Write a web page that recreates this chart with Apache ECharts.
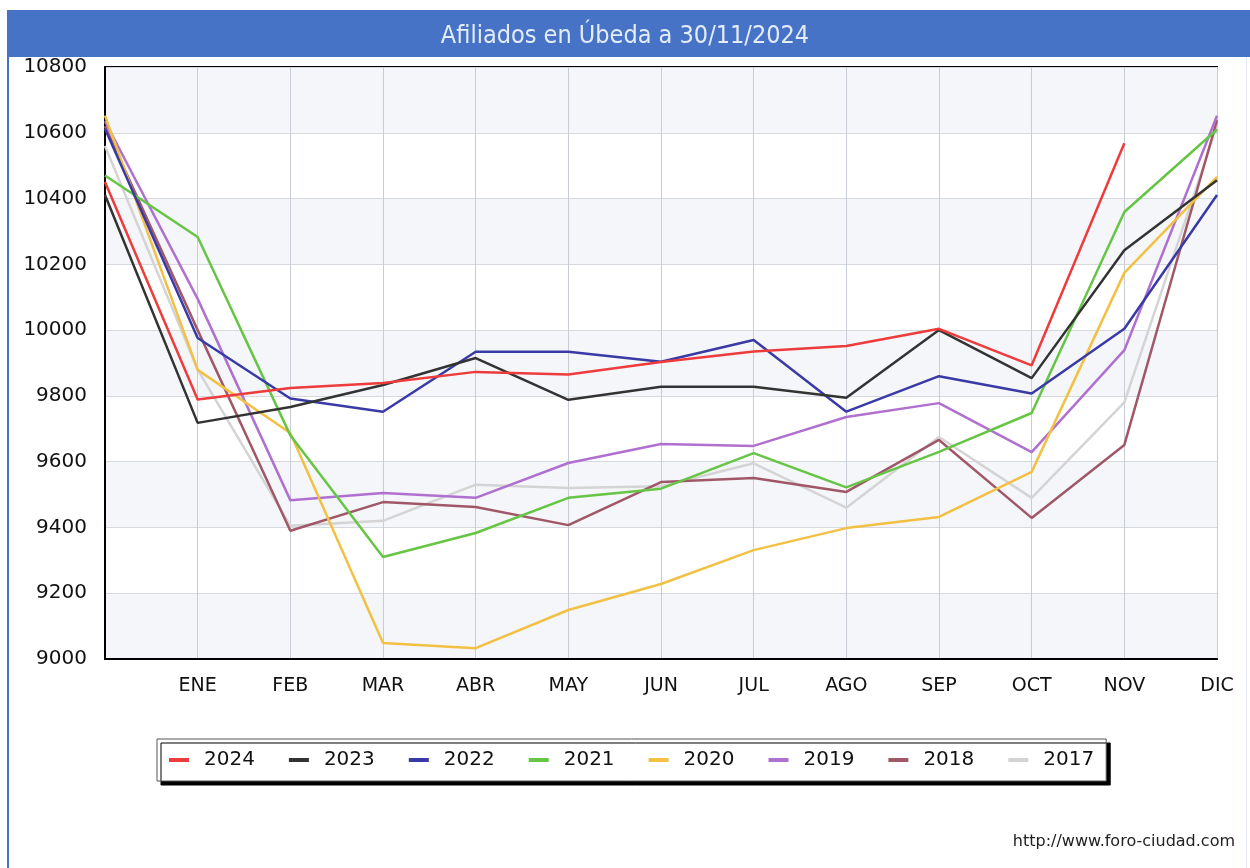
<!DOCTYPE html>
<html>
<head>
<meta charset="utf-8">
<script src="https://cdn.jsdelivr.net/npm/echarts@6/dist/echarts.min.js"></script>
<style>
  html, body { margin: 0; padding: 0; background: #ffffff; }
  #chart { width: 1250px; height: 868px; }
</style>
</head>
<body>
<div id="chart"></div>
<script>
// meses (la primera posición es diciembre del año anterior, sin etiqueta)
const months = ['', 'ENE', 'FEB', 'MAR', 'ABR', 'MAY', 'JUN', 'JUL', 'AGO', 'SEP', 'OCT', 'NOV', 'DIC'];
const yTicks = [9000, 9200, 9400, 9600, 9800, 10000, 10200, 10400, 10600, 10800];

const y2024 = [10450, 9789, 9824, 9839, 9873, 9865, 9903, 9935, 9952, 10004, 9893, 10568, null];
const y2023 = [10411, 9718, 9766, 9833, 9915, 9788, 9828, 9828, 9794, 10000, 9854, 10243, 10456];
const y2022 = [10612, 9976, 9792, 9752, 9934, 9934, 9904, 9970, 9752, 9860, 9807, 10004, 10411];
const y2021 = [10470, 10283, 9680, 9310, 9383, 9490, 9518, 9626, 9522, 9630, 9748, 10359, 10610];
const y2020 = [10652, 9879, 9687, 9049, 9033, 9149, 9228, 9331, 9398, 9432, 9569, 10174, 10466];
const y2019 = [10635, 10095, 9483, 9505, 9490, 9596, 9654, 9648, 9736, 9778, 9629, 9939, 10652];
const y2018 = [10620, 10000, 9390, 9477, 9462, 9407, 9538, 9550, 9508, 9666, 9429, 9651, 10638];
const y2017 = [10560, 9880, 9405, 9420, 9530, 9520, 9525, 9595, 9460, 9675, 9490, 9780, 10620];

const years = ['2017', '2018', '2019', '2020', '2021', '2022', '2023', '2024'];
const values = [y2017, y2018, y2019, y2020, y2021, y2022, y2023, y2024];
const colors = ['#d4d4d4', '#a05868', '#b070d0', '#f2c144', '#66c544', '#3a3aa6', '#333333', '#ee3b3b'];

var dom = document.getElementById('chart');
var myChart = echarts.init(dom, null, { renderer: 'canvas' });

var series = years.map(function (y, i) {
    return {
        name: y,
        type: 'line',
        data: values[i],
        showSymbol: false,
        symbol: 'none',
        connectNulls: false,
        lineStyle: { width: 2.5, color: colors[i] },
        itemStyle: { color: colors[i] },
        z: 2 + i
    };
});

var option = {
    animation: false,
    backgroundColor: '#ffffff',
    graphic: [
        { type: 'rect', left: 8, top: 10, shape: { width: 1242, height: 47 }, style: { fill: '#4673c6' } },
        { type: 'rect', left: 7, top: 10, shape: { width: 2, height: 858 }, style: { fill: '#4673c6' } },
        { type: 'rect', left: 1246, top: 57, shape: { width: 1, height: 811 }, style: { fill: '#e4e9f2' } },
        {
            type: 'text', left: 'center', top: 24,
            style: {
                text: 'Afiliados en Úbeda a 30/11/2024',
                fill: '#e4ecf8',
                font: '25px "DejaVu Sans Condensed", "DejaVu Sans"'
            }
        },
        {
            type: 'text', right: 15, top: 834,
            style: {
                text: 'http://www.foro-ciudad.com',
                fill: '#222222',
                font: '16px "DejaVu Sans"'
            }
        }
    ],
    grid: {
        left: 105,
        right: 33,
        top: 67,
        bottom: 209,
        show: true,
        borderColor: '#000000',
        borderWidth: 2,
        backgroundColor: 'transparent'
    },
    legend: {
        data: years.slice().reverse(),
        left: 157,
        top: 739,
        padding: [11, 12, 11, 12],
        itemGap: 34,
        itemWidth: 20,
        itemHeight: 4,
        icon: 'rect',
        backgroundColor: '#ffffff',
        borderColor: '#555555',
        borderWidth: 1,
        shadowColor: '#000000',
        shadowOffsetX: 4,
        shadowOffsetY: 4,
        shadowBlur: 0,
        textStyle: { fontFamily: 'DejaVu Sans', fontSize: 20, color: '#111111', padding: [0, 0, 0, 10] }
    },
    xAxis: {
        type: 'category',
        data: months,
        boundaryGap: false,
        axisTick: { show: false },
        axisLine: { show: true, lineStyle: { color: '#000000', width: 2 } },
        axisLabel: {
            interval: 0,
            margin: 18,
            fontFamily: 'DejaVu Sans',
            fontSize: 19,
            color: '#111111'
        },
        splitLine: { show: true, interval: 0, lineStyle: { color: '#c8ccd4', width: 1 } }
    },
    yAxis: {
        type: 'value',
        min: yTicks[0],
        max: yTicks[yTicks.length - 1],
        interval: 200,
        axisTick: { show: false },
        axisLine: { show: true, lineStyle: { color: '#000000', width: 2 } },
        axisLabel: {
            margin: 18,
            fontFamily: 'DejaVu Sans',
            fontSize: 20,
            color: '#111111',
            formatter: function (v) { return String(v); }
        },
        splitLine: { show: true, lineStyle: { color: '#d6d9de', width: 1 } },
        splitArea: { show: true, areaStyle: { color: ['#f4f6f9', '#ffffff'] } }
    },
    series: series
};

option && myChart.setOption(option);
</script>
</body>
</html>
